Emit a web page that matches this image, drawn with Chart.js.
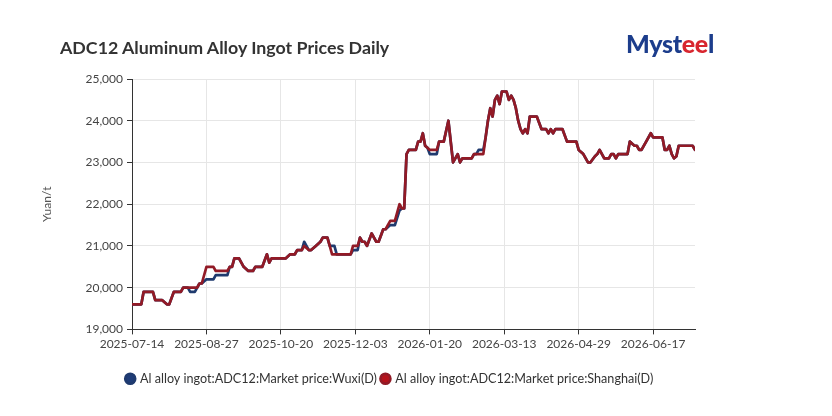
<!DOCTYPE html>
<html>
<head>
<meta charset="utf-8">
<title>ADC12 Aluminum Alloy Ingot Prices Daily</title>
<script src="https://cdn.jsdelivr.net/npm/chart.js@4.4.1/dist/chart.umd.min.js"></script>
<style>
body { margin: 0; background: #fff; }
#wrap { position: relative; width: 832px; height: 416px; font-family: Lato, sans-serif; }
#title { position: absolute; left: 60px; top: 38px; font-size: 17.8px; line-height: 18px; font-weight: 700; color: #333; white-space: nowrap; }
#logo { position: absolute; left: 626px; top: 31px; font-size: 25px; line-height: 25px; font-weight: 900; color: #1c3d8c; white-space: nowrap; letter-spacing: -0.3px; }
#logo .r { color: #d8262f; }
canvas { position: absolute; left: 0; top: 0; }
</style>
</head>
<body>
<div id="wrap">
  <canvas id="daily" width="832" height="416"></canvas>
  <div id="title">ADC12 Aluminum Alloy Ingot Prices Daily</div>
  <div id="logo">Myst<span class="r">ee</span>l</div>
</div>
<script>
// trading day index counted from 2025-07-14
var tickDays = [0, 32, 64, 96, 128, 160, 192, 224];
var tickLabels = ['2025-07-14', '2025-08-27', '2025-10-20', '2025-12-03', '2026-01-20', '2026-03-13', '2026-04-29', '2026-06-17'];

// Shanghai: days where the price changes, and the price there
var shDays = [0, 4, 5, 9, 10, 13, 15, 16, 18, 21, 22, 28, 29, 30, 32, 35, 36, 41, 42, 43,
    44, 46, 48, 50, 52, 53, 56, 58, 59, 60, 66, 68, 70, 71, 73, 74, 76, 77, 79, 81,
    82, 84, 85, 86, 94, 95, 97, 98, 99, 100, 101, 103, 105, 106, 108, 109, 111, 113, 115, 116,
    117, 118, 119, 122, 123, 124, 125, 126, 127, 128, 131, 132, 134, 136, 138, 140, 141, 142, 146, 147,
    151, 152, 153, 154, 155, 156, 157, 158, 159, 161, 162, 163, 164, 165, 166, 167, 168, 169, 170, 171,
    174, 175, 176, 178, 179, 180, 181, 182, 185, 187, 191, 192, 193, 194, 196, 197, 199, 200, 201, 202,
    203, 205, 206, 207, 208, 209, 213, 214, 215, 216, 217, 218, 219, 221, 223, 224, 228, 229, 230, 231,
    232, 233, 234, 235, 241, 242];
var shPrices = [19600, 19600, 19900, 19900, 19700, 19700, 19600, 19600, 19900, 19900, 20000, 20000, 20100, 20100, 20500, 20500, 20400, 20400, 20500, 20500,
    20700, 20700, 20500, 20400, 20400, 20500, 20500, 20800, 20600, 20700, 20700, 20800, 20800, 20900, 20900, 21000, 20900, 20900, 21000, 21100,
    21200, 21200, 21000, 20800, 20800, 21000, 21000, 21200, 21100, 21100, 21000, 21300, 21100, 21100, 21400, 21400, 21600, 21600, 22000, 21900,
    21900, 23200, 23300, 23300, 23500, 23500, 23700, 23400, 23350, 23300, 23300, 23500, 23500, 24000, 23000, 23200, 23000, 23100, 23100, 23200,
    23200, 23600, 24000, 24300, 24100, 24500, 24600, 24400, 24700, 24700, 24500, 24600, 24500, 24300, 24000, 23800, 23700, 23800, 23700, 24100,
    24100, 23950, 23800, 23800, 23700, 23800, 23700, 23800, 23800, 23500, 23500, 23300, 23250, 23200, 23000, 23000, 23150, 23200, 23300, 23200,
    23100, 23100, 23200, 23200, 23100, 23200, 23200, 23500, 23450, 23400, 23400, 23300, 23300, 23500, 23700, 23600, 23600, 23300, 23300, 23400,
    23200, 23100, 23150, 23400, 23400, 23300];

// Wuxi
var wxDays = [0, 4, 5, 9, 10, 13, 15, 16, 18, 21, 22, 24, 25, 27, 29, 30, 32, 35, 36, 41,
    42, 43, 44, 46, 48, 50, 52, 53, 56, 58, 59, 60, 66, 68, 70, 71, 73, 74, 76, 77,
    79, 81, 82, 84, 85, 87, 88, 94, 95, 97, 98, 99, 100, 101, 103, 105, 106, 108, 109, 111,
    113, 115, 116, 117, 118, 119, 122, 123, 124, 125, 126, 127, 128, 131, 132, 134, 136, 138, 140, 141,
    142, 146, 147, 148, 149, 151, 152, 153, 154, 155, 156, 157, 158, 159, 161, 162, 163, 164, 165, 166,
    167, 168, 169, 170, 171, 174, 175, 176, 178, 179, 180, 181, 182, 185, 187, 191, 192, 193, 194, 196,
    197, 199, 200, 201, 202, 203, 205, 206, 207, 208, 209, 213, 214, 215, 216, 217, 218, 219, 221, 223,
    224, 228, 229, 230, 231, 232, 233, 234, 235, 241, 242];
var wxPrices = [19600, 19600, 19900, 19900, 19700, 19700, 19600, 19600, 19900, 19900, 20000, 20000, 19900, 19900, 20100, 20100, 20200, 20200, 20300, 20300,
    20500, 20500, 20700, 20700, 20500, 20400, 20400, 20500, 20500, 20800, 20600, 20700, 20700, 20800, 20800, 20900, 20900, 21100, 20900, 20900,
    21000, 21100, 21200, 21200, 21000, 21000, 20800, 20800, 20900, 20900, 21200, 21100, 21100, 21000, 21300, 21100, 21100, 21400, 21400, 21500,
    21500, 21850, 21900, 21900, 23200, 23300, 23300, 23500, 23500, 23700, 23400, 23350, 23200, 23200, 23500, 23500, 24000, 23000, 23200, 23000,
    23100, 23100, 23200, 23200, 23300, 23300, 23600, 24000, 24300, 24100, 24500, 24600, 24400, 24700, 24700, 24500, 24600, 24500, 24300, 24000,
    23800, 23700, 23800, 23700, 24100, 24100, 23950, 23800, 23800, 23700, 23800, 23700, 23800, 23800, 23500, 23500, 23300, 23250, 23200, 23000,
    23000, 23150, 23200, 23300, 23200, 23100, 23100, 23200, 23200, 23100, 23200, 23200, 23500, 23450, 23400, 23400, 23300, 23300, 23500, 23700,
    23600, 23600, 23300, 23300, 23400, 23200, 23100, 23150, 23400, 23400, 23300];

var yTicks = [19000, 20000, 21000, 22000, 23000, 24000, 25000];

function toPoints(days, prices) {
    var pts = [];
    for (var i = 0; i < days.length; i++) {
        pts.push({ x: days[i], y: prices[i] });
    }
    return pts;
}

Chart.defaults.font.family = 'Lato, sans-serif';
Chart.defaults.color = '#444';

var ctx = document.getElementById('daily');

var lineChart = new Chart(ctx, {
    type: 'line',
    data: {
        datasets: [
            {
                label: 'Al alloy ingot:ADC12:Market price:Wuxi(D)',
                data: toPoints(wxDays, wxPrices),
                borderColor: '#1f3a6e',
                backgroundColor: '#1e3c78',
                borderWidth: 2.7,
                pointRadius: 0,
                tension: 0,
                order: 1
            },
            {
                label: 'Al alloy ingot:ADC12:Market price:Shanghai(D)',
                data: toPoints(shDays, shPrices),
                borderColor: '#921a26',
                backgroundColor: '#b5121b',
                borderWidth: 2.7,
                pointRadius: 0,
                tension: 0,
                order: 0
            }
        ]
    },
    options: {
        responsive: false,
        animation: false,
        layout: { padding: { top: 79, left: 36, right: 88, bottom: 21 } },
        elements: { line: { borderJoinStyle: 'round', borderCapStyle: 'round' } },
        scales: {
            x: {
                type: 'linear',
                min: 0,
                max: 242,
                afterBuildTicks: function(scale) {
                    scale.ticks = tickDays.map(function(d) { return { value: d }; });
                },
                afterFit: function(scale) { scale.height = 38; },
                grid: { color: '#e6e6e6', tickColor: '#333', tickLength: 5 },
                border: { color: '#333', width: 1 },
                ticks: {
                    autoSkip: false,
                    maxRotation: 0,
                    padding: 3,
                    color: '#444',
                    font: { size: 12 },
                    callback: function(value) {
                        var i = tickDays.indexOf(value);
                        return i >= 0 ? tickLabels[i] : '';
                    }
                }
            },
            y: {
                min: 19000,
                max: 25000,
                afterBuildTicks: function(scale) {
                    scale.ticks = yTicks.map(function(v) { return { value: v }; });
                },
                afterFit: function(scale) { scale.width = 96; },
                grid: { color: '#e6e6e6', tickColor: '#333', tickLength: 5 },
                border: { color: '#333', width: 1 },
                title: { display: true, text: 'Yuan/t', color: '#555', font: { size: 12 } },
                ticks: {
                    padding: 4,
                    color: '#444',
                    font: { size: 12 },
                    callback: function(value) { return value.toLocaleString('en-US'); }
                }
            },
            side: {
                position: 'right',
                grid: { display: false, drawTicks: false },
                border: { display: false },
                ticks: { display: false },
                afterFit: function(scale) { scale.width = 49; }
            }
        },
        plugins: {
            legend: {
                position: 'bottom',
                labels: {
                    usePointStyle: true,
                    pointStyle: 'circle',
                    boxWidth: 7,
                    boxHeight: 7,
                    padding: 5,
                    color: '#333',
                    font: { size: 12.6 },
                    sort: function(a, b) { return a.datasetIndex - b.datasetIndex; }
                }
            },
            tooltip: { enabled: false }
        }
    }
});
</script>
</body>
</html>
